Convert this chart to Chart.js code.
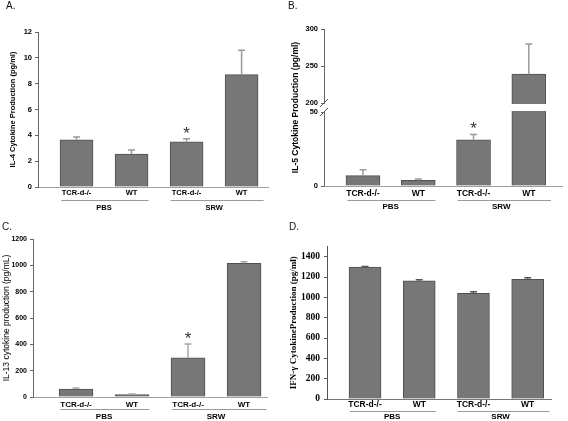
<!DOCTYPE html>
<html><head><meta charset="utf-8">
<script src="https://cdn.jsdelivr.net/npm/chart.js@4/dist/chart.umd.min.js"></script>
<style>
html,body{margin:0;padding:0;background:#fff;}
body{width:568px;height:421px;overflow:hidden;position:relative;font-family:"Liberation Sans",Arial,sans-serif;}
canvas{position:absolute;}
.lbl{position:absolute;font-size:10px;line-height:10px;color:#111;}
</style></head>
<body>
<canvas id="cA" width="284" height="216" style="left:0px;top:0px"></canvas>
<canvas id="cB" width="284" height="216" style="left:284px;top:0px"></canvas>
<canvas id="cC" width="284" height="211" style="left:0px;top:210px"></canvas>
<canvas id="cD" width="284" height="211" style="left:284px;top:210px"></canvas>
<div class="lbl" style="left:6px;top:1px">A.</div>
<div class="lbl" style="left:288px;top:1px">B.</div>
<div class="lbl" style="left:2px;top:222px">C.</div>
<div class="lbl" style="left:289px;top:222px">D.</div>
<script>
// ---- data ----
const categories = ['TCR-d-/-', 'WT', 'TCR-d-/-', 'WT'];
const groups = ['PBS', 'SRW'];
const significant = [false, false, true, false];

const il4 = [3.65, 2.55, 3.5, 8.7];
const il4Err = [0.22, 0.32, 0.24, 1.88];
const il4Ticks = [0, 2, 4, 6, 8, 10, 12];

const il5 = [7.0, 3.8, 31.2, 239];
const il5Err = [3.9, 0.9, 3.6, 40.7];
const il5Ticks = [0, 50, 200, 250, 300];

const il13 = [60, 18, 298, 1015];
const il13Err = [8, 4, 104, 12];
const il13Ticks = [0, 200, 400, 600, 800, 1000, 1200];

const ifng = [1298, 1162, 1040, 1178];
const ifngErr = [6, 12, 14, 14];
const ifngTicks = [0, 200, 400, 600, 800, 1000, 1200, 1400];

// ---- broken linear scale (axis break between two ranges) ----
class BrokenLinearScale extends Chart.LinearScale {
  _split() {
    const o = this.options;
    const half = (this.bottom - this.top - o.breakGap) / 2;
    return {lo: o.breakLow, hi: o.breakHigh, half: half, pLo: this.bottom - half, pHi: this.top + half};
  }
  getPixelForValue(value) {
    const s = this._split();
    if (value <= s.lo) return this.bottom - (value - this.min) / (s.lo - this.min) * s.half;
    if (value >= s.hi) return this.top + (this.max - value) / (this.max - s.hi) * s.half;
    return s.pLo - (value - s.lo) / (s.hi - s.lo) * (s.pLo - s.pHi);
  }
  getValueForPixel(pixel) {
    const s = this._split();
    if (pixel >= s.pLo) return this.min + (this.bottom - pixel) / s.half * (s.lo - this.min);
    if (pixel <= s.pHi) return this.max - (pixel - this.top) / s.half * (this.max - s.hi);
    return s.lo + (s.pLo - pixel) / (s.pLo - s.pHi) * (s.hi - s.lo);
  }
}
BrokenLinearScale.id = 'brokenLinear';
BrokenLinearScale.defaults = Chart.LinearScale.defaults;
Chart.register(BrokenLinearScale);

const SANS = '"Liberation Sans", Arial, sans-serif';
const SERIF = '"Liberation Serif", "Times New Roman", serif';
const groupSpans = [[0.72, 2.31], [2.71, 4.4]];

function panelPlugin(p) {
  return {
    id: 'panel_' + p.canvas,
    afterDatasetsDraw(chart) {
      const ctx = chart.ctx, xs = chart.scales.x, ys = chart.scales.y, ca = chart.chartArea;
      ctx.save();
      if (p.broken) {
        const pt = ys.getPixelForValue(p.broken.hi), pb = ys.getPixelForValue(p.broken.lo);
        ctx.fillStyle = '#ffffff';
        ctx.fillRect(ca.left - 1, pt + 1, ca.right - ca.left + 1, pb - pt - 2);
        ctx.strokeStyle = '#555';
        ctx.lineWidth = 1;
        [pt, pb].forEach(py => {
          ctx.beginPath();
          ctx.moveTo(ca.left - 4, py + 4);
          ctx.lineTo(ca.left + 4, py - 4);
          ctx.stroke();
        });
      }
      ctx.strokeStyle = p.errColor;
      ctx.lineWidth = 1.5;
      p.values.forEach((v, i) => {
        const x = xs.getPixelForValue(i + 1);
        const y0 = ys.getPixelForValue(v);
        const y1 = ys.getPixelForValue(v + p.errs[i]);
        ctx.beginPath();
        ctx.moveTo(x, y0); ctx.lineTo(x, y1);
        ctx.moveTo(x - 3.5, y1); ctx.lineTo(x + 3.5, y1);
        ctx.stroke();
        if (p.stars && significant[i]) {
          ctx.fillStyle = '#333';
          ctx.font = '17px ' + SANS;
          ctx.textAlign = 'center';
          ctx.textBaseline = 'alphabetic';
          ctx.fillText('*', x, y1 - 10 + 0.58 * 17);
        }
      });
      ctx.restore();
    },
    afterDraw(chart) {
      const ctx = chart.ctx, xs = chart.scales.x;
      ctx.save();
      ctx.strokeStyle = '#9a9a9a';
      ctx.lineWidth = 1;
      ctx.fillStyle = '#000';
      ctx.font = 'bold ' + p.groupSize + 'px ' + SANS;
      ctx.textAlign = 'center';
      ctx.textBaseline = 'middle';
      groups.forEach((g, gi) => {
        const a = xs.getPixelForValue(groupSpans[gi][0]);
        const b = xs.getPixelForValue(groupSpans[gi][1]);
        ctx.beginPath();
        ctx.moveTo(a, p.lineY + 0.5); ctx.lineTo(b, p.lineY + 0.5);
        ctx.stroke();
        const c = xs.getPixelForValue(gi * 2 + 1.5);
        ctx.fillText(g, c, p.groupY);
      });
      ctx.restore();
    }
  };
}

function makePanel(p) {
  const cv = document.getElementById(p.canvas);
  const W = cv.width, H = cv.height, A = p.area;
  const zeroPad = s => { s.paddingLeft = 0; s.paddingRight = 0; s.paddingTop = 0; s.paddingBottom = 0; };
  const yTicks = p.tickValues;
  const yScale = Object.assign({
    type: p.broken ? 'brokenLinear' : 'linear',
    position: 'left',
    min: p.yMin, max: p.yMax,
    afterBuildTicks: s => { s.ticks = yTicks.map(v => ({value: v})); },
    afterFit: s => { s.width = A.l; zeroPad(s); },
    grid: {drawOnChartArea: false, drawTicks: true, tickLength: 3, color: p.axisColor, lineWidth: 1},
    border: {display: true, color: p.axisColor, width: 1},
    ticks: {color: '#000', padding: p.tickPad, font: {family: p.tickFamily, size: p.tickSize, weight: 'bold'},
            callback: v => String(v)},
    title: {display: true, text: p.title, color: '#000',
            font: {family: p.titleFamily, size: p.titleSize, weight: p.titleWeight, lineHeight: 1.2},
            padding: {top: p.titlePad, bottom: 0}}
  }, p.broken ? {breakLow: p.broken.lo, breakHigh: p.broken.hi, breakGap: p.broken.gap} : {});

  return new Chart(cv, {
    type: 'bar',
    data: {
      datasets: [{
        data: p.values.map((v, i) => ({x: i + 1, y: v})),
        backgroundColor: '#777777',
        borderColor: '#505050',
        borderWidth: 1,
        barThickness: p.barW
      }]
    },
    options: {
      responsive: false,
      animation: false,
      devicePixelRatio: 1,
      layout: {padding: {left: 0, top: A.t, right: W - A.r, bottom: 0}},
      plugins: {legend: {display: false}, tooltip: {enabled: false}, title: {display: false}},
      scales: {
        x: {
          type: 'linear',
          offset: false,
          bounds: 'data',
          min: p.xMin, max: p.xMax,
          afterBuildTicks: s => { s.ticks = categories.map((c, i) => ({value: i + 1})); },
          afterFit: s => { s.height = H - A.b; zeroPad(s); },
          grid: {display: false, drawTicks: false, offset: false},
          border: {display: true, color: p.xAxisColor, width: 1},
          ticks: {color: '#000', autoSkip: false, maxRotation: 0,
                  padding: Math.max(0, p.catY - A.b - 0.56 * p.catSize),
                  font: {family: SANS, size: p.catSize, weight: 'bold'},
                  callback: (v, i) => categories[i]}
        },
        y: yScale
      }
    },
    plugins: [panelPlugin(p)]
  });
}

makePanel({canvas: 'cA', area: {l: 38, t: 32, r: 268, b: 187}, xMin: 0.3, xMax: 4.48, barW: 33,
  values: il4, errs: il4Err, stars: true, yMin: 0, yMax: 12, tickValues: il4Ticks,
  tickFamily: SANS, tickSize: 7.5, tickPad: 3, axisColor: '#666', xAxisColor: '#a0a0a0',
  title: 'IL-4 Cytokine Production (pg/ml)', titleFamily: SANS, titleSize: 7.5, titleWeight: 'bold', titlePad: 8,
  catSize: 7.5, catY: 193, lineY: 200, groupY: 208, groupSize: 7.5, errColor: '#9a9a9a'});

makePanel({canvas: 'cB', area: {l: 40, t: 29, r: 278, b: 186}, xMin: 0.295, xMax: 4.6, barW: 34,
  values: il5, errs: il5Err, stars: true, yMin: 0, yMax: 300, tickValues: il5Ticks,
  broken: {lo: 50, hi: 200, gap: 9},
  tickFamily: SANS, tickSize: 7.5, tickPad: 3, axisColor: '#666', xAxisColor: '#a0a0a0',
  title: 'IL-5 Cytokine Production (pg/ml)', titleFamily: SANS, titleSize: 8.5, titleWeight: 'bold', titlePad: 7,
  catSize: 8.5, catY: 193, lineY: 200, groupY: 207, groupSize: 8, errColor: '#9a9a9a'});

makePanel({canvas: 'cC', area: {l: 33, t: 29, r: 267, b: 187}, xMin: 0.232, xMax: 4.41, barW: 34,
  values: il13, errs: il13Err, stars: true, yMin: 0, yMax: 1200, tickValues: il13Ticks,
  tickFamily: SANS, tickSize: 7, tickPad: 3, axisColor: '#666', xAxisColor: '#a0a0a0',
  title: 'IL-13 cytokine production (pg/mL)', titleFamily: SANS, titleSize: 8.5, titleWeight: 'normal', titlePad: 1.5,
  catSize: 8, catY: 194, lineY: 199, groupY: 207, groupSize: 8, errColor: '#a8a8a8'});

makePanel({canvas: 'cD', area: {l: 43, t: 36.5, r: 267, b: 189}, xMin: 0.299, xMax: 4.43, barW: 32,
  values: ifng, errs: ifngErr, stars: false, yMin: 0, yMax: 1500, tickValues: ifngTicks,
  tickFamily: SERIF, tickSize: 9.5, tickPad: 4, axisColor: '#555', xAxisColor: '#777',
  title: 'IFN-γ CytokineProduction (pg/ml)', titleFamily: SERIF, titleSize: 9, titleWeight: 'bold', titlePad: 4,
  catSize: 8.5, catY: 194, lineY: 201, groupY: 207, groupSize: 8, errColor: '#555'});
</script>
</body></html>
